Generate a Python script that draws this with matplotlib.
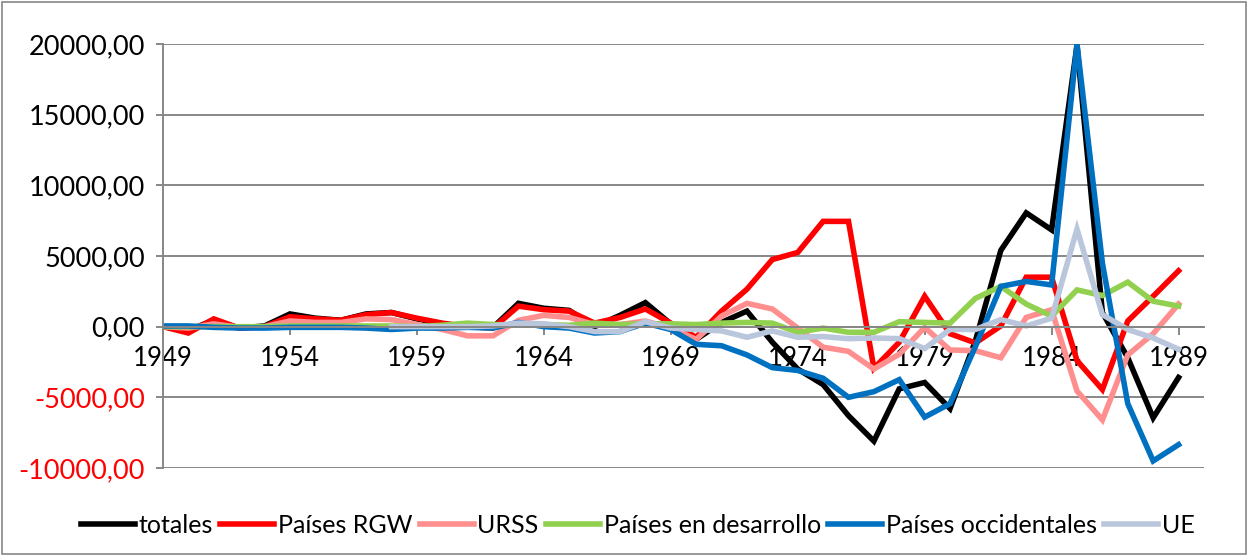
import numpy as np
import matplotlib
matplotlib.use('Agg')
import matplotlib.pyplot as plt
from matplotlib.patches import Rectangle

plt.rcParams['font.family'] = ['Lato', 'DejaVu Sans']

years = list(range(1949, 1990))

totales = [0, -250, 450, -100, 50, 900, 600, 450, 900, 1000,
           550, 200, 0, -50, 1650, 1300, 1150, 0, 800, 1700,
           200, -900, 300, 1100, -1100, -3000, -4100, -6300, -8100, -4400,
           -3950, -5800, -1000, 5400, 8050, 6850, 19900, 1000, -2200, -6450,
           -3600]
rgw = [0, -450, 550, -100, 0, 700, 550, 450, 850, 1000,
       600, 250, 0, -100, 1450, 1200, 1100, 250, 650, 1250,
       250, -750, 1100, 2650, 4750, 5250, 7450, 7450, -2950, -1100,
       2150, -500, -1150, 50, 3500, 3500, -2400, -4450, 400, 2150,
       3950]
urss = [0, -100, 200, -50, 0, 400, 300, 300, 550, 500,
        150, -200, -650, -650, 450, 800, 650, 150, 150, 400,
        -100, -900, 750, 1650, 1250, -100, -1450, -1750, -3000, -1950,
        -50, -1650, -1700, -2200, 650, 1200, -4550, -6600, -2000, -500,
        1600]
desarrollo = [0, 0, 0, 0, 0, 50, 50, 50, 50, 50,
              0, 100, 250, 150, 100, 150, 100, 250, 150, 200,
              200, 150, 250, 300, 250, -400, -100, -400, -400, 350,
              300, 250, 2000, 2850, 1600, 750, 2600, 2200, 3150, 1800,
              1450]
occidentales = [50, 50, -50, -100, -100, -50, -50, -50, -100, -200,
                -100, -100, -50, -100, 300, 0, -100, -450, -350, 250,
                -200, -1250, -1350, -2000, -2900, -3100, -3650, -5000, -4600, -3750,
                -6400, -5450, -1400, 2850, 3200, 2950, 20000, 4500, -5450, -9500,
                -8350]
ue = [np.nan] * 9 + [0,
      0, 0, 0, 50, 250, 200, 0, -350, -350, 350,
      -100, -200, -300, -750, -300, -750, -700, -850, -800, -850,
      -1550, -200, -200, 500, 50, 600, 6900, 850, -200, -800,
      -1600]

series = [('totales', totales, '#000000'),
          ('Países RGW', rgw, '#FF0000'),
          ('URSS', urss, '#FF8F8F'),
          ('Países en desarrollo', desarrollo, '#92D050'),
          ('Países occidentales', occidentales, '#0070C0'),
          ('UE', ue, '#B9C6DC')]

fig = plt.figure(figsize=(12.48, 5.55), dpi=100)
ax = fig.add_axes([0.1306, 0.1568, 0.8341, 0.7639])

for name, vals, col in series:
    ax.plot(years, vals, color=col, lw=4.0, label=name, solid_joinstyle='miter')

ax.set_xlim(1949, 1990)
ax.set_ylim(-10000, 20000)
ax.set_yticks(range(-10000, 20001, 5000))
ax.set_yticklabels([f'{v:.2f}'.replace('.', ',') for v in range(-10000, 20001, 5000)])
for lab, v in zip(ax.get_yticklabels(), range(-10000, 20001, 5000)):
    if v < 0:
        lab.set_color('#FF0000')
ax.set_xticks(range(1949, 1990, 5))
ax.set_xticklabels([str(y) for y in range(1949, 1990, 5)])

ax.grid(axis='y', color='#878787', lw=1.4)
ax.set_axisbelow(True)
for s in ['top', 'right']:
    ax.spines[s].set_visible(False)
ax.spines['bottom'].set_position(('data', 0))
ax.spines['bottom'].set_color('#878787')
ax.spines['bottom'].set_linewidth(1.4)
ax.spines['left'].set_color('#878787')
ax.spines['left'].set_linewidth(1.4)
ax.tick_params(axis='y', labelsize=19.5, length=5, color='#878787', width=1.4, pad=8)
ax.tick_params(axis='x', labelsize=18.5, length=6, color='#878787', width=1.4, pad=8)

fig.legend(loc='lower center', bbox_to_anchor=(0.511, -0.008), ncol=6, frameon=False,
           fontsize=18, handlelength=2.15, handletextpad=0.15, columnspacing=0.3)

fig.patches.append(Rectangle((0.002, 0.002), 0.996, 0.994, transform=fig.transFigure,
                             fill=False, edgecolor='#878787', lw=1.2))

fig.savefig('out.png', dpi=100)
